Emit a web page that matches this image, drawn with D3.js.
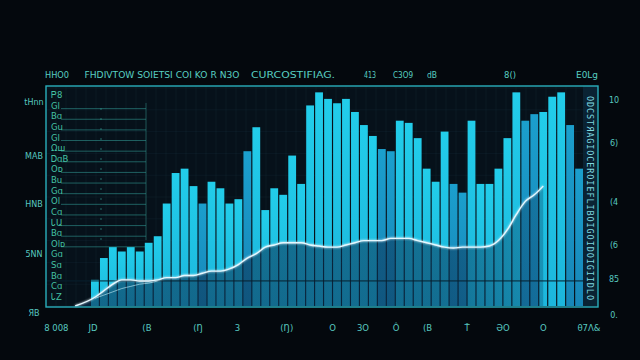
<!DOCTYPE html>
<html><head><meta charset="utf-8">
<script src="https://cdn.jsdelivr.net/npm/d3@7"></script>
<style>html,body{margin:0;padding:0;background:#04080d;}svg{display:block;}</style>
</head><body>
<svg id="c" width="640" height="360"></svg>
<script>
// ---- data ----
const barValues = [12,22,27,25,27,25,29,32,47,61,63,55,47,57,54,47,49,71,82,44,54,51,69,56,92,98,95,93,95,89,83,78,72,71,85,84,77,63,57,80,56,52,85,56,56,63,77,98,85,88,89,96,98,83,63];
const barGroup  = ["A","A","A","A","A","A","A","A","A","A","A","A","B","A","A","A","A","B","A","A","A","A","A","A","A","A","A","A","A","A","A","A","B","B","A","A","A","A","A","A","B","B","A","A","A","A","A","A","B","B","A","A","A","B","B"];
const lineValues = [4,7,10,12,12,11.5,11.5,12,13,13,14,14,15,16,16,17,19,22,24,27,28,29,29,29,28,27.5,27,27,28,29,30,30,30,31,31,31,30,29,28,27,26.6,27,27,27,27.5,30,35,42,48,51,55,null,null,null,null];
const lowerLineValues = [3.5,5,6.5,8,9,10,10.5,11.5];
const leftTickValues = [93.6,69,47,24,-3];
const leftTickLabels = ["tHnn","MAB","HNB","5NN","ЯB"];
const rightTickValues = [94.5,75,47.7,28,12.4,-4];
const rightTickLabels = ["10","6)","(4","(б","85","0."];
const bottomTickPos = [-4.3,-0.2,5.8,11.5,15.9,21.4,26.5,29.9,33.6,37.1,41.5,45.5,50,55.1];
const bottomTickLabels = ["8 008","JD","(B","(Ŋ","3","(Ŋ)","O","3O","Ô","(B","Ť","ƏO","O","θ7Λ&"];
const topLabels = ["HHO0","FHDIVTOW SOIETSI COI KO R N3O","CURCOSTIFIAG.","413","C3O9","dB","8()","E0Lg"];
const legendLabels = ["Ꮲ8","Gl","Bɑ","Gu","Gl","Ωш","ᎠɑB","Oᴅ","Bu","Gɑ","Ol","Cɑ","ᏓԱ","Bɑ","Olᴅ","Gɑ","Sɑ","Bɑ","Cɑ","ᏓZ"];
const sideText = "ODCSTЯAGIOCEROIEFLIBOIGOIDOIGIIDLO";

// ---- layout ----
const svg = d3.select("#c");
const W = 640, H = 360;
const frame = {x0:46, y0:86, x1:598, y1:307};
const y = d3.scaleLinear().domain([0,100]).range([306,88]);
const x = d3.scaleBand().domain(d3.range(barValues.length)).range([91,583]).paddingInner(0.13);
const xi = d3.scaleLinear().domain([0, barValues.length-1]).range([x(0)+x.bandwidth()/2, x(barValues.length-1)+x.bandwidth()/2]);

const defs = svg.append("defs");
const glow = defs.append("filter").attr("id","glow").attr("x","-20%").attr("y","-20%").attr("width","140%").attr("height","140%");
glow.append("feGaussianBlur").attr("stdDeviation",1.2).attr("result","b");
const fm = glow.append("feMerge"); fm.append("feMergeNode").attr("in","b"); fm.append("feMergeNode").attr("in","SourceGraphic");
const gA = defs.append("linearGradient").attr("id","gA").attr("x1",0).attr("y1",0).attr("x2",0).attr("y2",1);
gA.append("stop").attr("offset","0%").attr("stop-color","#22cdea");
gA.append("stop").attr("offset","100%").attr("stop-color","#1cb6dc");
const gB = defs.append("linearGradient").attr("id","gB").attr("x1",0).attr("y1",0).attr("x2",0).attr("y2",1);
gB.append("stop").attr("offset","0%").attr("stop-color","#1b9fcd");
gB.append("stop").attr("offset","100%").attr("stop-color","#1786b8");
const gArea = defs.append("linearGradient").attr("id","gArea").attr("gradientUnits","userSpaceOnUse")
  .attr("x1",80).attr("y1",0).attr("x2",560).attr("y2",0);
gArea.append("stop").attr("offset","0%").attr("stop-color","#0b3254").attr("stop-opacity",0.6);
gArea.append("stop").attr("offset","75%").attr("stop-color","#0b3254").attr("stop-opacity",0.55);
gArea.append("stop").attr("offset","100%").attr("stop-color","#0b3254").attr("stop-opacity",0.25);

svg.append("rect").attr("width",W).attr("height",H).attr("fill","#04080d");
svg.append("rect").attr("x",frame.x0).attr("y",frame.y0).attr("width",frame.x1-frame.x0).attr("height",frame.y1-frame.y0)
  .attr("fill","#06111a");

// faint background grid
const gridG = svg.append("g").attr("stroke","#1b3a48").attr("stroke-opacity",0.35).attr("stroke-width",0.6);
gridG.selectAll("line.v").data(d3.range(frame.x0+10, frame.x1, 10)).join("line")
  .attr("x1",d=>d).attr("x2",d=>d).attr("y1",frame.y0).attr("y2",frame.y1);
gridG.selectAll("line.h").data(d3.range(0,101,10)).join("line")
  .attr("x1",frame.x0).attr("x2",frame.x1).attr("y1",d=>y(d)).attr("y2",d=>y(d));

// legend panel (left)
const lg = svg.append("g");
const legY = d3.scaleLinear().domain([0, legendLabels.length-1]).range([95,297]);
lg.selectAll("line").data(d3.range(1,15)).join("line")
  .attr("x1",61).attr("x2",146).attr("y1",i=>legY(i)+3).attr("y2",i=>legY(i)+3)
  .attr("stroke","#2f8f8a").attr("stroke-opacity",0.7).attr("stroke-width",0.9);
lg.append("line").attr("x1",146).attr("x2",146).attr("y1",103).attr("y2",240).attr("stroke","#2f8f8a").attr("stroke-opacity",0.5);
lg.append("line").attr("x1",101).attr("x2",101).attr("y1",108).attr("y2",240).attr("stroke","#3aa89a").attr("stroke-opacity",0.6).attr("stroke-dasharray","2,8");
lg.selectAll("text").data(legendLabels).join("text")
  .attr("x",51).attr("y",(d,i)=>legY(i)+3)
  .attr("fill","#44c2a4").attr("font-family","DejaVu Sans").attr("font-size",8.5)
  .text(d=>d);

// bars
svg.append("g").selectAll("rect").data(barValues).join("rect")
  .attr("x",(d,i)=>x(i)).attr("width",x.bandwidth())
  .attr("y",d=>y(d)).attr("height",d=>y(0)-y(d))
  .attr("fill",(d,i)=>barGroup[i]==="A"?"url(#gA)":"url(#gB)");

// area under line
const pts = lineValues.map((v,i)=>[i,v]);
const area = d3.area().defined(d=>d[1]!==null).x(d=>xi(d[0])).y0(y(0)).y1(d=>y(d[1])).curve(d3.curveMonotoneX);
svg.append("path").datum([[ -2.2, 0 ], ...pts]).attr("d",area).attr("fill","url(#gArea)");

// horizontal dark gridline over bars
svg.append("line").attr("x1",frame.x0).attr("x2",frame.x1).attr("y1",y(11.5)).attr("y2",y(11.5))
  .attr("stroke","#08202e").attr("stroke-width",1);

// lines
const line = d3.line().defined(d=>d[1]!==null).x(d=>xi(d[0])).y(d=>y(d[1])).curve(d3.curveMonotoneX);
svg.append("path").datum([[-2.2,0], ...pts]).attr("d",line).attr("fill","none")
  .attr("stroke","#e6f8ff").attr("stroke-width",1.4).attr("filter","url(#glow)");
svg.append("path").datum(lowerLineValues.map((v,i)=>[i,v])).attr("d",line).attr("fill","none")
  .attr("stroke","#bfeaf5").attr("stroke-opacity",0.7).attr("stroke-width",0.9);

// side text strip
svg.append("rect").attr("x",583).attr("y",frame.y0).attr("width",frame.x1-583).attr("height",y(0)-frame.y0)
  .attr("fill","#0a2333");
svg.append("text").attr("transform","translate(587,96) rotate(90)")
  .attr("fill","#7fd9e0").attr("font-family","DejaVu Sans Mono").attr("font-size",8.5)
  .attr("textLength",204).attr("lengthAdjust","spacing").text(sideText);

// frame
svg.append("rect").attr("x",frame.x0).attr("y",frame.y0).attr("width",frame.x1-frame.x0).attr("height",frame.y1-frame.y0)
  .attr("fill","none").attr("stroke","#2aaebc").attr("stroke-width",1.4);
svg.append("line").attr("x1",frame.x0).attr("x2",frame.x0).attr("y1",frame.y0).attr("y2",frame.y1)
  .attr("stroke","#3fd6e2").attr("stroke-width",2).attr("filter","url(#glow)");
svg.append("line").attr("x1",frame.x0).attr("x2",frame.x1).attr("y1",y(0)).attr("y2",y(0))
  .attr("stroke","#3fd6e6").attr("stroke-width",3).attr("filter","url(#glow)");

// axes labels
const tf = {fill:"#58c8c0", family:"DejaVu Sans", size:8};
svg.append("g").selectAll("text").data(leftTickValues).join("text")
  .attr("x",34).attr("y",d=>y(d)+3).attr("text-anchor","middle")
  .attr("fill",tf.fill).attr("font-family",tf.family).attr("font-size",tf.size)
  .text((d,i)=>leftTickLabels[i]);
svg.append("g").selectAll("text").data(rightTickValues).join("text")
  .attr("x",614).attr("y",d=>y(d)+3).attr("text-anchor","middle")
  .attr("fill",tf.fill).attr("font-family",tf.family).attr("font-size",tf.size)
  .text((d,i)=>rightTickLabels[i]);
svg.append("g").selectAll("text").data(bottomTickPos).join("text")
  .attr("x",d=>xi(d)).attr("y",331).attr("text-anchor","middle")
  .attr("fill",tf.fill).attr("font-family",tf.family).attr("font-size",8.5)
  .text((d,i)=>bottomTickLabels[i]);

// top labels
const topX = [57,162,293,370,403,432,510,587];
svg.append("g").selectAll("text").data(topLabels).join("text")
  .attr("x",(d,i)=>topX[i]).attr("y",78).attr("text-anchor","middle")
  .attr("fill","#58cfc2").attr("font-family","DejaVu Sans").attr("font-size",8)
  .attr("textLength",(d,i)=>[24,155,84,12,20,10,12,22][i]).attr("lengthAdjust","spacingAndGlyphs")
  .text(d=>d);
</script>
</body></html>
